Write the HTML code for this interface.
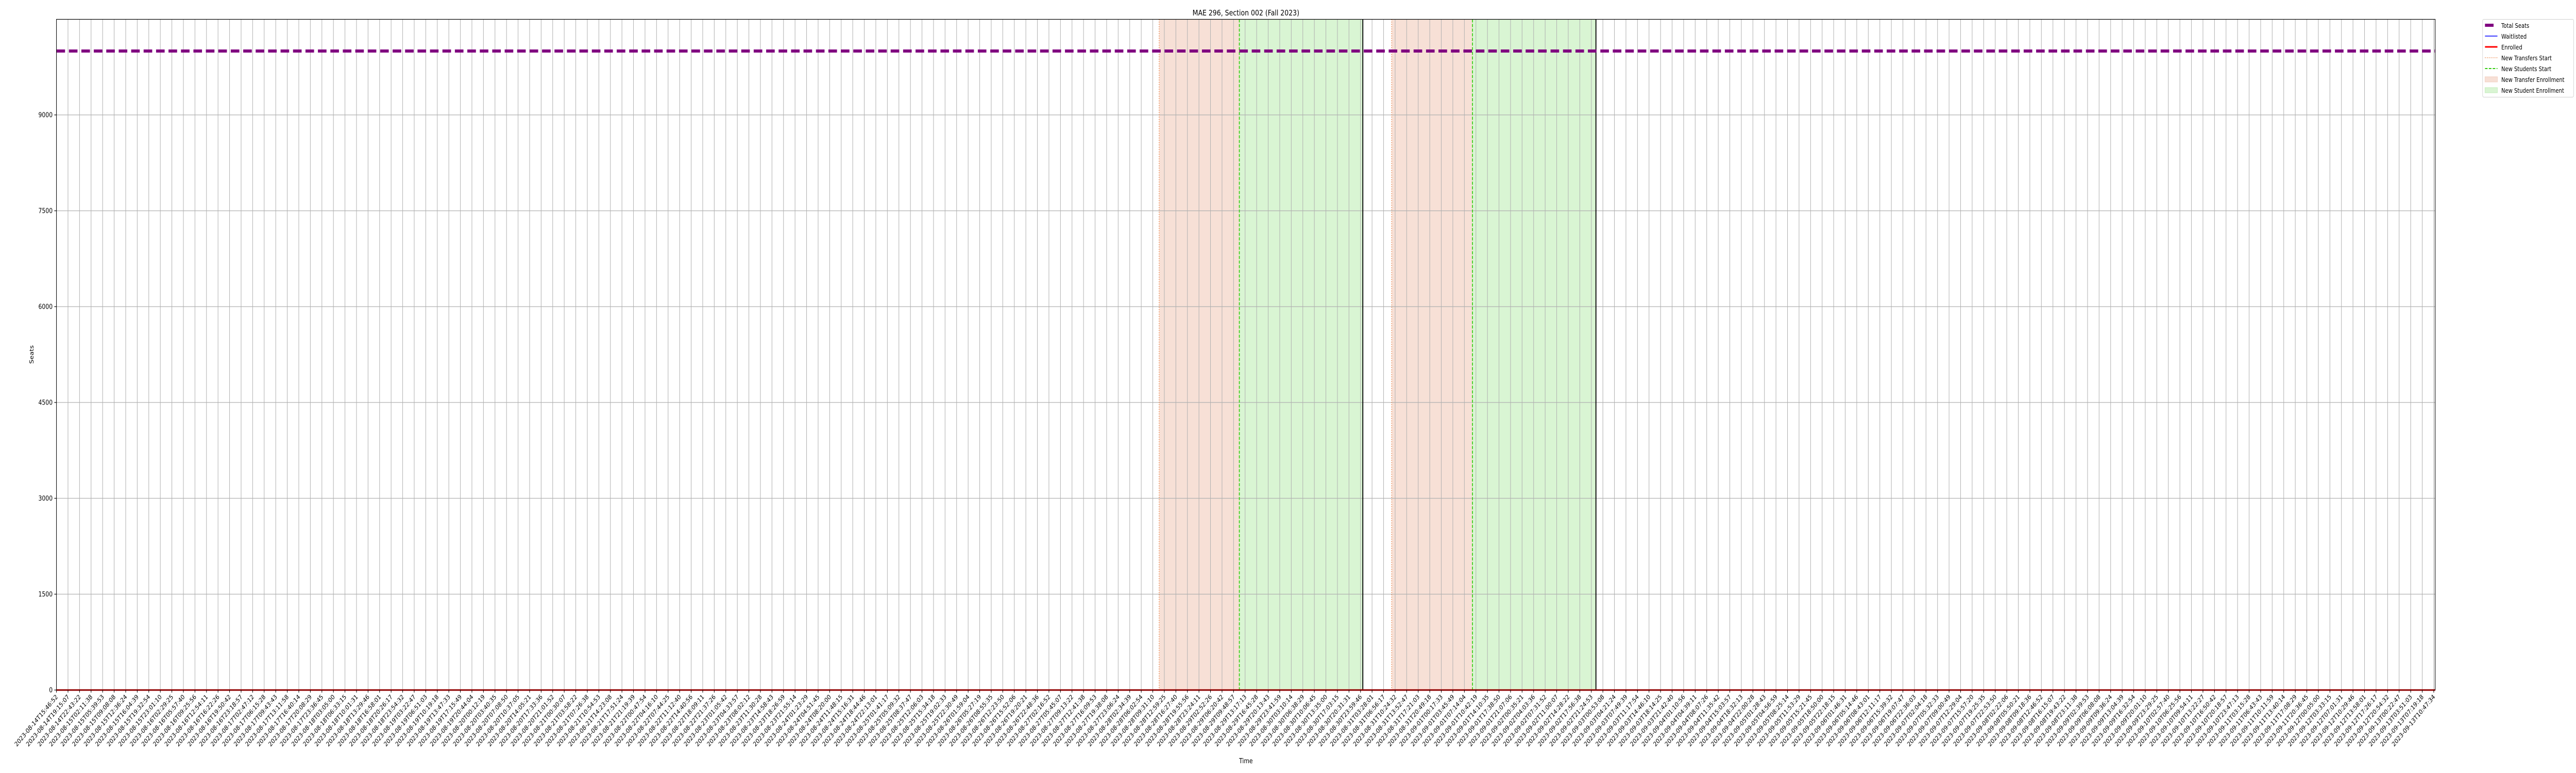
<!DOCTYPE html>
<html><head><meta charset="utf-8"><style>
html,body{margin:0;padding:0;background:#fff;overflow:hidden;width:100%;height:100%;}
svg{display:block;width:100vw;height:100vh;font-family:"DejaVu Sans","Liberation Sans",sans-serif;}
</style></head><body>
<svg id="chart" viewBox="0 0 6000 1500" preserveAspectRatio="none" xmlns="http://www.w3.org/2000/svg">
<rect width="6000" height="1500" fill="#fff"/>
<g id="shade"></g>
<g id="grid"></g>
<g id="series"></g>
<g id="axes"></g>
<text x="2902" y="30" font-size="15" text-anchor="middle">MAE 296, Section 002 (Fall 2023)</text>
<text x="2902" y="1481" font-size="13" text-anchor="middle">Time</text>
<text x="0" y="0" font-size="13" text-anchor="middle" transform="translate(78,688) rotate(-90)">Seats</text>
<g id="legend">
<rect x="5782.5" y="37.5" width="212" height="151" rx="3" fill="#fff" stroke="#d0d0d0"/>
<g><line x1="5788" y1="49" x2="5808" y2="49" stroke="#800080" stroke-width="6"/><text x="5826" y="54" font-size="12">Total Seats</text></g>
<g><line x1="5788" y1="70" x2="5817" y2="70" stroke="#0000ff" stroke-width="1.5"/><text x="5826" y="75" font-size="12">Waitlisted</text></g>
<g><line x1="5788" y1="91" x2="5817" y2="91" stroke="#ff0000" stroke-width="3"/><text x="5826" y="96" font-size="12">Enrolled</text></g>
<g><line x1="5788" y1="112" x2="5817" y2="112" stroke="#e8702a" stroke-width="1.5" stroke-dasharray="1.5,3"/><text x="5826" y="117" font-size="12">New Transfers Start</text></g>
<g><line x1="5788" y1="133" x2="5817" y2="133" stroke="#33cc11" stroke-width="2" stroke-dasharray="6,3"/><text x="5826" y="138" font-size="12">New Students Start</text></g>
<g><rect x="5788" y="149" width="29" height="10" fill="#f7e0d6" stroke="#f2cfc0"/><text x="5826" y="159" font-size="12">New Transfer Enrollment</text></g>
<g><rect x="5788" y="170" width="29" height="10" fill="#d9f5d3" stroke="#c4ecbb"/><text x="5826" y="180" font-size="12">New Student Enrollment</text></g>
</g>
</svg>
<script>
// ---- data ----
const tickStart = "2023-08-14T15:46:52";
const tickEnd = "2023-09-13T10:47:34";
const tickCount = 207;
const yTicks = [0, 1500, 3000, 4500, 6000, 7500, 9000];
const totalSeats = 10000;
const enrolledValue = 0;
const waitlistedValue = 0;
// period boundaries in tick-index units
const transferStarts = [95.55, 115.7];
const studentStarts = [102.5, 122.7];
const periodEnds = [113.2, 133.4];

// ---- layout ----
const L = 131.5, R = 5672, T = 37.5, B = 1339;
const yMax = 10496;
const NS = "http://www.w3.org/2000/svg";
function xPos(i){ return L + (R - 3.3 - L) * i / (tickCount - 1); }
function yPos(v){ return B - (B - T) * v / yMax; }
function mk(tag, attrs, parent){ const e = document.createElementNS(NS, tag); for (const k in attrs) e.setAttribute(k, attrs[k]); parent.appendChild(e); return e; }
function pad(n){ return String(n).padStart(2, "0"); }

const t0 = Date.parse(tickStart + "Z"), t1 = Date.parse(tickEnd + "Z");
const tickLabels = [];
for (let i = 0; i < tickCount; i++) {
  const d = new Date(t0 + (t1 - t0) * i / (tickCount - 1));
  tickLabels.push(d.getUTCFullYear() + "-" + pad(d.getUTCMonth() + 1) + "-" + pad(d.getUTCDate()) + "T" + pad(d.getUTCHours()) + ":" + pad(d.getUTCMinutes()) + ":" + pad(d.getUTCSeconds()));
}

const shade = document.getElementById("shade");
const grid = document.getElementById("grid");
const series = document.getElementById("series");
const axes = document.getElementById("axes");

for (let k = 0; k < transferStarts.length; k++) {
  const a = xPos(transferStarts[k]), b = xPos(studentStarts[k]), c = xPos(periodEnds[k]);
  const r1 = mk("rect", {x: a, y: T, width: b - a, height: B - T, fill: "#f7e0d6"}, shade);
  
  
  const r2 = mk("rect", {x: b, y: T, width: c - b, height: B - T, fill: "#d9f5d3"}, shade);
  
  
}

for (let i = 0; i < tickCount; i++) {
  const x = xPos(i);
  const g = mk("line", {x1: x, y1: T, x2: x, y2: B, stroke: "#b0b0b0", "stroke-width": 1.2}, grid);
  
  
}
yTicks.forEach(v => {
  const y = yPos(v);
  const g = mk("line", {x1: L, y1: y, x2: R, y2: y, stroke: "#b0b0b0", "stroke-width": 1.2}, grid);
  
  
});

for (let k = 0; k < transferStarts.length; k++) {
  const xa = xPos(transferStarts[k]);
  const l1 = mk("line", {x1: xa, y1: T, x2: xa, y2: B, stroke: "#e8702a", "stroke-width": 1.5, "stroke-dasharray": "1.5,3"}, series);
  
  
  const xb = xPos(studentStarts[k]);
  const l2 = mk("line", {x1: xb, y1: T, x2: xb, y2: B, stroke: "#33cc11", "stroke-width": 2, "stroke-dasharray": "6,3"}, series);
  
  
  const xc = xPos(periodEnds[k]);
  const l3 = mk("line", {x1: xc, y1: T, x2: xc, y2: B, stroke: "#000", "stroke-width": 2.2}, series);
  
  
}

function linePts(v){ const p = []; for (let i = 0; i < tickCount; i++) p.push(xPos(i) + "," + yPos(v)); return [L + "," + yPos(v)].concat(p, [R + "," + yPos(v)]).join(" "); }
const wl = mk("polyline", {points: linePts(waitlistedValue), fill: "none", stroke: "#0000ff", "stroke-width": 1.5}, series);


const en = mk("polyline", {points: linePts(enrolledValue), fill: "none", stroke: "#ff0000", "stroke-width": 3}, series);


const ts = mk("polyline", {points: linePts(totalSeats), fill: "none", stroke: "#800080", "stroke-width": 6, "stroke-dasharray": "20,9"}, series);



const fr = mk("rect", {x: L, y: T, width: R - L, height: B - T, fill: "none", stroke: "#000", "stroke-width": 1.2}, axes);



yTicks.forEach(v => {
  const y = yPos(v);
  const tk = mk("line", {x1: L - 5, y1: y, x2: L, y2: y, stroke: "#000", "stroke-width": 1.2}, axes);
  
  
  const tx = mk("text", {x: L - 9, y: y + 4.5, "font-size": 13, "text-anchor": "end"}, axes);
  tx.textContent = v;
  
  
});

for (let i = 0; i < tickCount; i++) {
  const x = xPos(i);
  const tk = mk("line", {x1: x, y1: B, x2: x, y2: B + 5, stroke: "#000", "stroke-width": 1.2}, axes);
  
  
  const tx = mk("text", {x: 0, y: 0, "font-size": 12.5, "text-anchor": "end", transform: "translate(" + (x + 4) + "," + (B + 14) + ") rotate(-45)"}, axes);
  tx.textContent = tickLabels[i];
  
  
}
</script>
</body></html>
